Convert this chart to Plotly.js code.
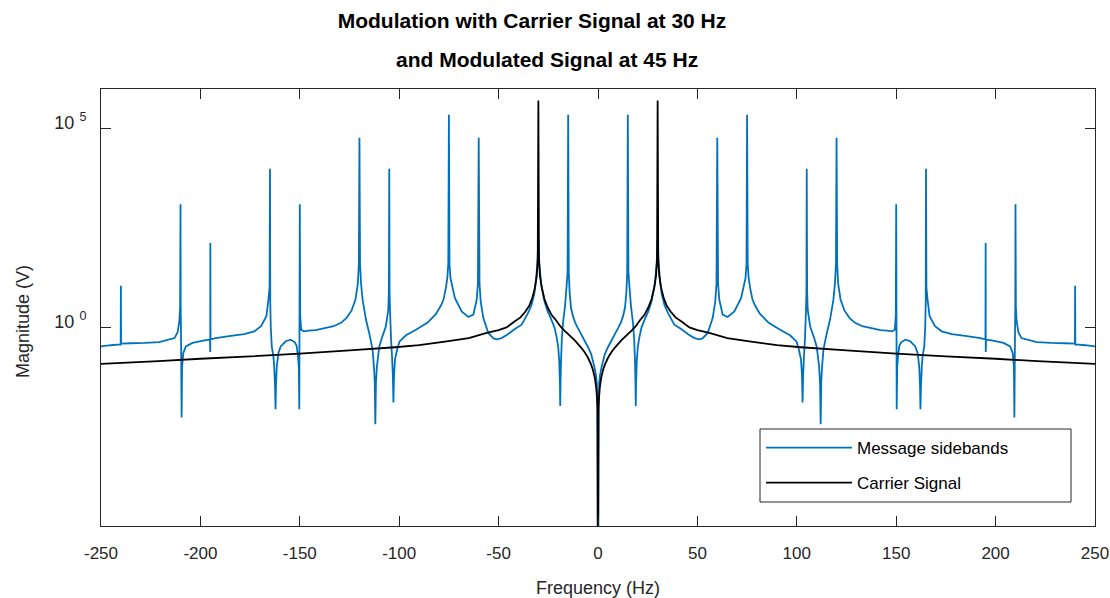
<!DOCTYPE html>
<html>
<head>
<meta charset="utf-8">
<script src="https://cdn.plot.ly/plotly-3.0.1.min.js"></script>
<style>html,body{margin:0;padding:0;background:#fff;}#chart{width:1110px;height:598px;}</style>
</head>
<body>
<div id="chart"></div>
<script>
// ---- Data ----
const titleLines = ["Modulation with Carrier Signal at 30 Hz", "and Modulated Signal at 45 Hz"];
const seriesNames = ["Message sidebands", "Carrier Signal"];
const xTickVals = [-250, -200, -150, -100, -50, 0, 50, 100, 150, 200, 250];
const xTickText = ["-250", "-200", "-150", "-100", "-50", "0", "50", "100", "150", "200", "250"];
const yTickVals = [1, 100000];
const yTickText = ["10 <sup>0</sup>", "10 <sup>5</sup>"];

// Message sidebands: frequency (Hz) and magnitude (V)
const sidebandFreqHz = [-250,-245,-240.5,-240.1,-240,-239.9,-235,-228,-220.7,-213,-211.5,-210.6,-210.2,-210,-209.9,-209.7,-209.45,-209.2,-208.6,-207.3,-204,-197.3,-195.2,-195.05,-195,-194.9,-192.3,-185.6,-178,-172.9,-169.5,-166.8,-165.8,-165.2,-165,-164.85,-164.6,-164.1,-163.3,-162.9,-162.45,-162.2,-162,-161.6,-160.8,-159.6,-157.1,-154.6,-152.6,-151.6,-150.9,-150.5,-150.25,-150,-149.8,-149.3,-148,-145.6,-142,-137.5,-133,-129.1,-126.5,-124,-122,-120.8,-120.3,-120,-119.7,-119.2,-118.4,-116.7,-115.1,-113.4,-112.6,-112.3,-112,-111.7,-111.2,-110,-108.4,-106.7,-105.5,-105.2,-105,-104.85,-104.6,-104.1,-103.6,-103.2,-102.9,-102.6,-102.1,-101,-99.9,-96.6,-91.6,-85.7,-81.5,-79,-77.7,-76.5,-75.8,-75.3,-75,-74.7,-74.2,-72,-68.6,-65.2,-62.7,-61,-60.4,-60,-59.6,-59,-57.7,-55.2,-52.6,-51,-48.5,-45.5,-42,-38.4,-35.3,-33.5,-32,-31.3,-30.5,-30,-29.5,-28.6,-26.9,-25.3,-23.5,-21.9,-20.8,-20,-19.5,-19.15,-19,-18.85,-18.6,-18.2,-17.6,-16.6,-15.7,-15.3,-15,-14.7,-14.3,-13.6,-12.7,-11.5,-10.1,-8.5,-6.8,-5,-3.4,-1.8,-1,-0.6,-0.3,0,
0.3,0.6,1,1.8,3.4,5,6.8,8.5,10.1,11.5,12.7,13.6,14.3,14.7,15,15.3,15.7,16.6,17.6,18.2,18.6,18.85,19,19.15,19.5,20,20.8,21.9,23.5,25.3,26.9,28.6,29.5,30,30.5,31.3,32,33.5,35.3,38.4,42,45.5,48.5,51,52.6,55.2,57.7,59,59.6,60,60.4,61,62.7,65.2,68.6,72,74.2,74.7,75,75.3,75.8,76.5,77.7,79,81.5,85.7,91.6,96.6,99.9,101,102.1,102.6,102.9,103.2,103.6,104.1,104.6,104.85,105,105.2,105.5,106.7,108.4,110,111.2,111.7,112,112.3,112.6,113.4,115.1,116.7,118.4,119.2,119.7,120,120.3,120.8,122,124,126.5,129.1,133,137.5,142,145.6,148,149.3,149.8,150,150.25,150.5,150.9,151.6,152.6,154.6,157.1,159.6,160.8,161.6,162,162.2,162.45,162.9,163.3,164.1,164.6,164.85,165,165.2,165.8,166.8,169.5,172.9,178,185.6,192.3,194.9,195,195.05,195.2,197.3,204,207.3,208.6,209.2,209.45,209.7,209.9,210,210.2,210.6,211.5,213,220.7,228,235,239.9,240,240.1,240.5,245,250];
const sidebandV = [0.331,0.355,0.372,0.355,11.2,0.389,0.398,0.407,0.427,0.537,0.741,1.41,3.16,1260,3.16,0.316,0.00537,0.1,0.229,0.331,0.407,0.479,0.49,0.24,132,0.501,0.537,0.603,0.676,0.794,1.07,1.91,4.9,10,9770,3.98,1.0,0.331,0.186,0.112,0.0316,0.00871,0.0316,0.1,0.224,0.331,0.447,0.49,0.427,0.347,0.186,0.1,0.00871,1260,2.0,0.871,0.794,0.832,0.851,0.955,1.07,1.32,1.74,2.63,5.01,12.6,39.8,58900,39.8,12.9,4.9,1.55,0.724,0.275,0.0871,0.0398,0.00363,0.0398,0.105,0.331,0.603,1.07,2.75,7.94,9770,7.94,2.51,0.501,0.186,0.0631,0.0129,0.0631,0.158,0.282,0.437,0.631,0.871,1.32,2.19,3.55,5.01,10,17.4,39.8,224000,39.8,17.4,5.5,2.51,1.82,2.09,5.01,12.6,58900,12.6,4.47,1.74,0.724,0.525,0.501,0.537,0.661,0.891,1.17,2.24,3.55,7.08,14.1,39.8,158,39.8,12.6,4.47,2.51,1.58,1.0,0.562,0.316,0.141,0.0398,0.0105,0.0398,0.141,0.501,1.29,3.39,12.6,25.1,224000,25.1,7.94,3.16,2.0,1.32,0.955,0.676,0.468,0.316,0.209,0.1,0.0631,0.0398,0.0126,1e-7,
0.0126,0.0398,0.0631,0.1,0.209,0.316,0.468,0.676,0.955,1.32,2.0,3.16,7.94,25.1,224000,25.1,12.6,3.39,1.29,0.501,0.141,0.0398,0.0105,0.0398,0.141,0.316,0.562,1.0,1.58,2.51,4.47,12.6,39.8,158,39.8,14.1,7.08,3.55,2.24,1.17,0.891,0.661,0.537,0.501,0.525,0.724,1.74,4.47,12.6,58900,12.6,5.01,2.09,1.82,2.51,5.5,17.4,39.8,224000,39.8,17.4,10,5.01,3.55,2.19,1.32,0.871,0.631,0.437,0.282,0.158,0.0631,0.0129,0.0631,0.186,0.501,2.51,7.94,9770,7.94,2.75,1.07,0.603,0.331,0.105,0.0398,0.00363,0.0398,0.0871,0.275,0.724,1.55,4.9,12.9,39.8,58900,39.8,12.6,5.01,2.63,1.74,1.32,1.07,0.955,0.851,0.832,0.794,0.871,2.0,1260,0.00871,0.1,0.186,0.347,0.427,0.49,0.447,0.331,0.224,0.1,0.0316,0.00871,0.0316,0.112,0.186,0.331,1.0,3.98,9770,10,4.9,1.91,1.07,0.794,0.676,0.603,0.537,0.501,132,0.24,0.49,0.479,0.407,0.331,0.229,0.1,0.00537,0.316,3.16,1260,3.16,1.41,0.741,0.537,0.427,0.407,0.398,0.389,11.2,0.355,0.372,0.355,0.331];

// Carrier signal: frequency (Hz) and magnitude (V)
const carrierFreqHz = [-250,-221,-200,-175,-150,-125,-102,-90,-77,-65,-56,-50,-46,-42,-39,-36.5,-34.5,-33,-31.7,-30.8,-30.3,-30,-29.7,-29.2,-28.3,-27,-25.3,-23.3,-21.1,-19,-16.9,-15,-11.7,-8.5,-6.8,-5.1,-3.5,-2.6,-1.6,-0.9,-0.5,-0.25,0,0.25,0.5,0.9,1.6,2.6,3.5,5.1,6.8,8.5,11.7,15,16.9,19,21.1,23.3,25.3,27,28.3,29.2,29.7,30,30.3,30.8,31.7,33,34.5,36.5,39,42,46,50,56,65,77,90,102,125,150,175,200,221,250];
const carrierV = [0.12,0.141,0.162,0.186,0.219,0.263,0.316,0.355,0.437,0.537,0.724,0.851,1.0,1.41,1.78,2.51,3.55,5.62,10,20,50,513000,50,20,10,5.25,3.16,2.04,1.51,1.07,0.832,0.676,0.468,0.31,0.24,0.174,0.117,0.087,0.054,0.03,0.0166,0.0083,1e-8,0.0083,0.0166,0.03,0.054,0.087,0.117,0.174,0.24,0.31,0.468,0.676,0.832,1.07,1.51,2.04,3.16,5.25,10,20,50,513000,50,20,10,5.62,3.55,2.51,1.78,1.41,1.0,0.851,0.724,0.537,0.437,0.355,0.316,0.263,0.219,0.186,0.162,0.141,0.12];

// ---- Plot ----
const FONT = '"Liberation Sans", Arial, Helvetica, sans-serif';
const AX = '#262626';
const W = 1110, H = 598, L = 101, R = 15, T = 89, B = 72;
const PW = W - L - R, PH = H - T - B;
const px2paperX = x => (x - L) / PW;
const px2paperY = y => (H - B - y) / PH;

const traces = [
  {x: sidebandFreqHz, y: sidebandV, name: seriesNames[0], type: 'scatter', mode: 'lines',
   legendgroup: 'g1', line: {color: '#0072BD', width: 1.8, simplify: false}},
  {x: carrierFreqHz, y: carrierV, name: seriesNames[1], type: 'scatter', mode: 'lines',
   legendgroup: 'g2', line: {color: '#000000', width: 1.8, simplify: false}}
];

const layout = {
  width: W, height: H,
  margin: {l: L, r: R, t: T, b: B, pad: 0},
  paper_bgcolor: '#ffffff', plot_bgcolor: '#ffffff',
  font: {family: FONT, color: AX, size: 17},
  showlegend: true,
  title: {text: titleLines[0], font: {family: FONT, size: 21, color: '#000', weight: 'bold'},
          xref: 'container', yref: 'container', x: 532 / W, xanchor: 'center', y: 1 - 21 / H, yanchor: 'middle'},
  annotations: [
    {text: titleLines[1], xref: 'paper', yref: 'paper', x: px2paperX(547), y: px2paperY(59.5),
     xanchor: 'center', yanchor: 'middle', showarrow: false,
     font: {family: FONT, size: 21, color: '#000', weight: 'bold'}},
    {text: 'Magnitude (V)', xref: 'paper', yref: 'paper', x: px2paperX(23), y: px2paperY(322),
     xanchor: 'center', yanchor: 'middle', showarrow: false, textangle: -90,
     font: {family: FONT, size: 18, color: AX}}
  ],
  shapes: [
    // legend frame
    {type: 'rect', xref: 'paper', yref: 'paper', layer: 'above',
     x0: px2paperX(760), x1: px2paperX(1071), y0: px2paperY(502), y1: px2paperY(429),
     fillcolor: '#ffffff', line: {color: AX, width: 1}}
  ],
  xaxis: {
    range: [-250, 250], tickmode: 'array', tickvals: xTickVals, ticktext: xTickText,
    ticks: 'inside', ticklen: 10, tickwidth: 1, tickcolor: AX, mirror: 'ticks',
    showline: true, linecolor: AX, linewidth: 1, showgrid: false, zeroline: false,
    tickfont: {family: FONT, size: 17, color: AX}, ticklabelstandoff: 12,
    title: {text: 'Frequency (Hz)', font: {family: FONT, size: 18, color: AX}, standoff: 18}
  },
  yaxis: {
    type: 'log', range: [-5, 6], tickmode: 'array', tickvals: yTickVals, ticktext: yTickText,
    ticks: 'inside', ticklen: 10, tickwidth: 1, tickcolor: AX, mirror: 'ticks',
    showline: true, linecolor: AX, linewidth: 1, showgrid: false, zeroline: false,
    tickfont: {family: FONT, size: 18, color: AX}, ticklabelstandoff: 10, ticklabelshift: -6
  },
  legend: {
    x: px2paperX(761), y: px2paperY(430), xanchor: 'left', yanchor: 'top',
    bgcolor: 'rgba(0,0,0,0)', borderwidth: 0,
    font: {family: FONT, size: 17, color: '#000'}, itemwidth: 86, tracegroupgap: 10
  }
};

Plotly.newPlot('chart', traces, layout, {displayModeBar: false, staticPlot: true});
</script>
</body>
</html>
